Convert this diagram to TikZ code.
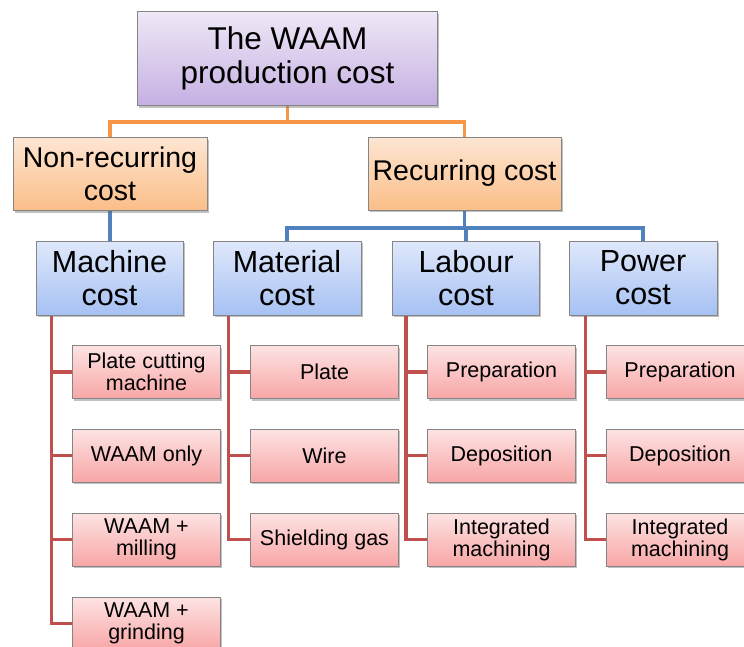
\documentclass[tikz,border=0pt]{standalone}
\usepackage{fontspec}
\setmainfont{Liberation Sans}
\usetikzlibrary{shadows,calc,backgrounds}

\definecolor{lineorange}{HTML}{F79646}
\definecolor{lineblue}{HTML}{4F81BD}
\definecolor{linered}{HTML}{C0504D}
\definecolor{boxedge}{HTML}{858585}
% colours for the gradients
\definecolor{rootTop}{HTML}{EFE8F7}
\definecolor{rootBot}{HTML}{C5B0E2}
\definecolor{midTop}{HTML}{FDE6D3}
\definecolor{midBot}{HTML}{FBBE88}
\definecolor{catTop}{HTML}{DFE8FB}
\definecolor{catBot}{HTML}{A6C1F3}
\definecolor{leafTop}{HTML}{FDE3E3}
\definecolor{leafBot}{HTML}{F8A6A6}

\tikzset{
  box/.style={draw=boxedge, line width=0.8pt, align=center, inner sep=0pt,
    drop shadow={shadow xshift=1.5pt, shadow yshift=-2pt, opacity=0.4, fill=black!60}},
  rootbox/.style={box, minimum width=300pt, minimum height=94pt,
    top color=rootTop, bottom color=rootBot,
    font=\fontsize{31.5}{34}\selectfont},
  midbox/.style={box, minimum height=73pt,
    top color=midTop, bottom color=midBot,
    font=\fontsize{28.5}{33}\selectfont},
  catbox/.style={box, minimum width=147pt, minimum height=74pt,
    top color=catTop, bottom color=catBot,
    font=\fontsize{30.5}{33}\selectfont},
  leafbox/.style={box, minimum width=148pt, minimum height=53pt,
    top color=leafTop, bottom color=leafBot,
    font=\fontsize{21.5}{22}\selectfont},
  orangelink/.style={draw=lineorange, line width=3.5pt},
  bluelink/.style={draw=lineblue, line width=3.5pt},
  redlink/.style={draw=linered, line width=3.5pt},
}

\begin{document}
\begin{tikzpicture}[x=1pt, y=-1pt]
  \useasboundingbox (0,0) rectangle (744,646);
  \clip (0,0) rectangle (744,646);

  % bus levels
  \coordinate (obus) at (0,122);
  \coordinate (bbus) at (0,228);

  % root and the two cost groups
  \node[rootbox] (root) at (287.5,58.5) {The WAAM\\production cost};
  \node[midbox, minimum width=194pt] (nonrec) at (110,174) {Non-recurring\\cost};
  \node[midbox, minimum width=193pt] (rec) at (464.5,173.5) {Recurring cost};

  % cost categories
  \node[catbox] (machine)  at (109.5,278) {Machine\\cost};
  \node[catbox, minimum width=148pt] (material) at (287,278) {Material\\cost};
  \node[catbox] (labour)   at (466,278) {Labour\\cost};
  \node[catbox, minimum width=148pt] (power)    at (643,278) {Power\\cost};

  % leaves
  \node[leafbox] (ma1) at (146.5,372)   {Plate cutting\\machine};
  \node[leafbox] (ma2) at (146.5,455.5) {WAAM only};
  \node[leafbox] (ma3) at (146.5,539.5) {WAAM +\\milling};
  \node[leafbox] (ma4) at (146.5,623.5) {WAAM +\\grinding};

  \node[leafbox] (mt1) at (324.5,372)   {Plate};
  \node[leafbox] (mt2) at (324.5,455.5) {Wire};
  \node[leafbox] (mt3) at (324.5,539.5) {Shielding gas};

  \node[leafbox] (lb1) at (501.5,372)   {Preparation};
  \node[leafbox] (lb2) at (501.5,455.5) {Deposition};
  \node[leafbox] (lb3) at (501.5,539.5) {Integrated\\machining};

  \node[leafbox] (pw1) at (680,372)   {Preparation};
  \node[leafbox] (pw2) at (680,455.5) {Deposition};
  \node[leafbox] (pw3) at (680,539.5) {Integrated\\machining};

  \begin{scope}[on background layer]
    \fill[white] (0,0) rectangle (744,646);

    % orange: root to the two groups
    \draw[orangelink] (root.south) -- (root.south |- obus);
    \draw[orangelink] (nonrec.north) |- (obus -| root.south) -| (rec.north);

    % blue: groups to categories
    \draw[bluelink] (nonrec.south) -- (machine.north -| nonrec.south);
    \draw[bluelink] (rec.south) -- (rec.south |- bbus);
    \draw[bluelink] (material.north) |- (bbus -| rec.south) -| (power.north);
    \draw[bluelink] (labour.north) -- (labour.north |- bbus);

    % red: categories to leaves
    \draw[redlink] ([xshift=16pt]machine.south west) |- (ma4.west);
    \foreach \n in {ma1,ma2,ma3}
      \draw[redlink] ([xshift=16pt]machine.south west |- \n.west) -- (\n.west);

    \draw[redlink] ([xshift=16pt]material.south west) |- (mt3.west);
    \foreach \n in {mt1,mt2}
      \draw[redlink] ([xshift=16pt]material.south west |- \n.west) -- (\n.west);

    \draw[redlink] ([xshift=14pt]labour.south west) |- (lb3.west);
    \foreach \n in {lb1,lb2}
      \draw[redlink] ([xshift=14pt]labour.south west |- \n.west) -- (\n.west);

    \draw[redlink] ([xshift=17pt]power.south west) |- (pw3.west);
    \foreach \n in {pw1,pw2}
      \draw[redlink] ([xshift=17pt]power.south west |- \n.west) -- (\n.west);
  \end{scope}
\end{tikzpicture}
\end{document}
